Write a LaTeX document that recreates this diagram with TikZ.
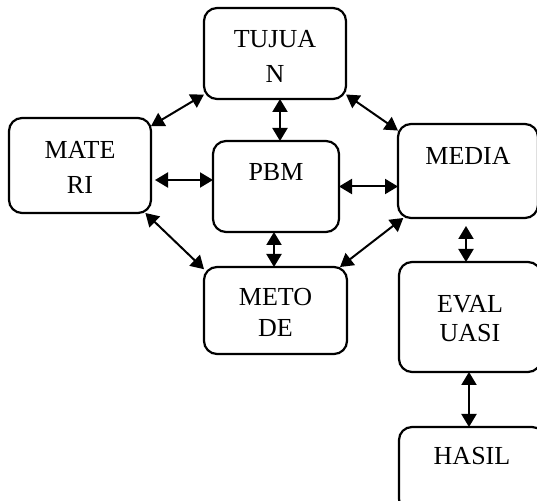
\documentclass[tikz,border=0pt]{standalone}
\usepackage{fontspec}
\setmainfont{Liberation Serif}
\usetikzlibrary{arrows.meta}

\begin{document}
\begin{tikzpicture}
  [x=0.5pt,y=-0.5pt,
   box/.style={draw=black, line width=1.1pt, rounded corners=6.5pt, inner sep=0pt, outer sep=0pt,
     anchor=north west, align=center, font=\fontsize{13}{17.5}\selectfont},
   link/.style={<->, >={Triangle[length=6.5pt,width=7.5pt]}, line width=1pt}]

  \useasboundingbox (0,0) rectangle (537,501);

  %%%%%%%%%%%%%%%%%%%%%% BOXES %%%%%%%%%%%%%%%%%%%%%%

   \node[box, text width=71pt, text height=20pt, text depth=25.5pt] (tujuan) at (204,8) {TUJUA\\N};
   \node[box, text width=71pt, text height=20.5pt, text depth=27pt] (materi) at (9,118) {MATE\\RI};
   \node[box, text width=63pt, text height=20pt, text depth=25.5pt] (pbm) at (213,141) {PBM};
   \node[box, text width=70pt, text height=20.5pt, text depth=26.5pt] (media) at (398,124) {MEDIA};
   \node[box, text width=71.5pt, text height=19.5pt, text depth=24pt,
         font=\fontsize{13}{15.5}\selectfont] (metode) at (204,267) {METO\\DE};
   \node[box, text width=71pt, text height=25.5pt, text depth=29.5pt,
         font=\fontsize{13}{14.5}\selectfont] (evaluasi) at (399,262) {EVAL\\UASI};
   \node[box, text width=73pt, text height=19pt, text depth=23.5pt] (hasil) at (399,427) {HASIL};

  %%%%%%%%%%%%%%%%%%%%%% ARROWS %%%%%%%%%%%%%%%%%%%%%%

   \foreach \fromA/\toA in {tujuan.210/materi.29, tujuan.-30/media.150,
                            materi.-36/metode.150, metode.34/media.216}
    \draw[link] (\fromA) -- (\toA);

   \draw[link] ([xshift=2pt]pbm.north |- tujuan.south) -- ([xshift=2pt]pbm.north);
   \draw[link] ([xshift=-1pt]pbm.south) -- ([xshift=-1pt]pbm.south |- metode.north);
   \draw[link] ([xshift=2pt,yshift=3.25pt]pbm.west -| materi.east) -- ([yshift=3.25pt]pbm.west);
   \draw[link] (pbm.east) -- (pbm.east -| media.west);
   \draw[link] ([xshift=-1pt,yshift=-4pt]media.south) -- ([xshift=-1pt]media.south |- evaluasi.north);
   \draw[link] ([xshift=-0.5pt]evaluasi.south) -- ([xshift=-0.5pt]evaluasi.south |- hasil.north);

\end{tikzpicture}
\end{document}
